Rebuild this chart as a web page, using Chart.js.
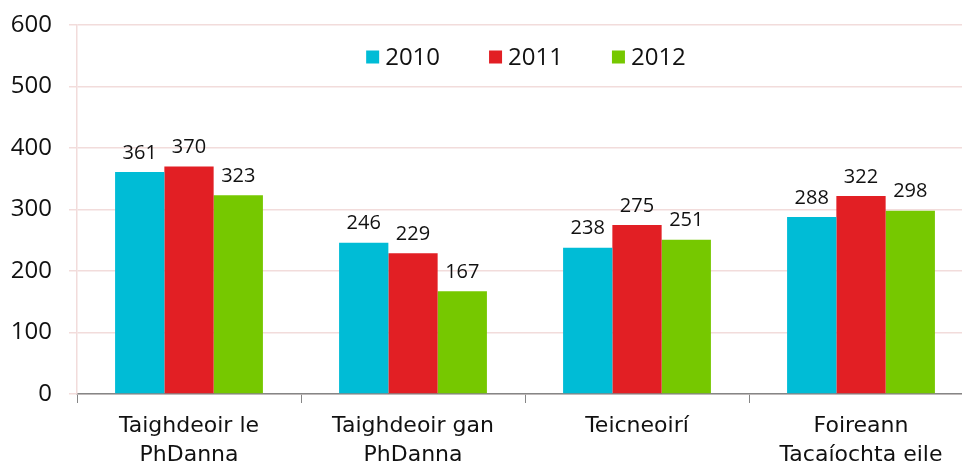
<!DOCTYPE html>
<html>
<head>
<meta charset="utf-8">
<script src="https://cdn.jsdelivr.net/npm/chart.js@4/dist/chart.umd.min.js"></script>
<style>
  html, body { margin: 0; padding: 0; background: #fff; overflow: hidden; }
  #wrap { width: 975px; height: 468px; }
</style>
</head>
<body>
<div id="wrap"><canvas id="barChart"></canvas></div>
<script>
// categories and series
const categories = [
    ['Taighdeoir le', 'PhDanna'],
    ['Taighdeoir gan', 'PhDanna'],
    ['Teicneoirí'],
    ['Foireann', 'Tacaíochta eile']
];
const years = ['2010', '2011', '2012'];
const values2010 = [361, 246, 238, 288];
const values2011 = [370, 229, 275, 322];
const values2012 = [323, 167, 251, 298];
const yTicks = [0, 100, 200, 300, 400, 500, 600];

const colours = ['#00BCD6', '#E21F24', '#76C800'];
const numFont = "'Open Sans', sans-serif";

// value labels above each bar
const barLabels = {
    id: 'barLabels',
    afterDatasetsDraw(chart) {
        const ctx = chart.ctx;
        ctx.save();
        ctx.font = '20px ' + numFont;
        ctx.fillStyle = '#111';
        ctx.textAlign = 'center';
        ctx.textBaseline = 'bottom';
        chart.data.datasets.forEach((ds, i) => {
            chart.getDatasetMeta(i).data.forEach((bar, j) => {
                ctx.fillText(ds.data[j], bar.x, bar.y - 9);
            });
        });
        ctx.restore();
    }
};

// legend drawn inside the plot area, near the top
const innerLegend = {
    id: 'innerLegend',
    afterDraw(chart) {
        const ctx = chart.ctx;
        const area = chart.chartArea;
        ctx.save();
        ctx.font = '24px ' + numFont;
        ctx.textBaseline = 'middle';
        const box = 13, gap = 6, spacing = 49;
        let total = 0;
        const widths = chart.data.datasets.map(ds => ctx.measureText(ds.label).width);
        widths.forEach(w => total += box + gap + w);
        total += spacing * (widths.length - 1);
        let x = 526 - total / 2;
        const y = area.top + 32;
        chart.data.datasets.forEach((ds, i) => {
            ctx.fillStyle = ds.backgroundColor;
            ctx.fillRect(x, y - box / 2, box, box);
            ctx.fillStyle = '#111';
            ctx.fillText(ds.label, x + box + gap, y + 1);
            x += box + gap + widths[i] + spacing;
        });
        ctx.restore();
    }
};

const ctx = document.getElementById('barChart').getContext('2d');
new Chart(ctx, {
    type: 'bar',
    data: {
        labels: categories,
        datasets: [
            { label: years[0], data: values2010, backgroundColor: colours[0] },
            { label: years[1], data: values2011, backgroundColor: colours[1] },
            { label: years[2], data: values2012, backgroundColor: colours[2] }
        ]
    },
    options: {
        responsive: true,
        maintainAspectRatio: false,
        animation: false,
        layout: { padding: { left: 11, top: 25, right: 2, bottom: 0 } },
        datasets: {
            bar: { barPercentage: 1, categoryPercentage: 0.66 }
        },
        scales: {
            x: {
                afterFit: axis => { axis.height = 74; axis.paddingLeft = 0; axis.paddingRight = 0; },
                grid: {
                    offset: true,
                    drawOnChartArea: false,
                    tickLength: 9,
                    color: '#868686'
                },
                border: { color: '#868686', width: 1.5 },
                ticks: {
                    padding: 9,
                    color: '#111',
                    font: { family: "'DejaVu Sans', sans-serif", size: 22, lineHeight: 1.3 }
                }
            },
            y: {
                min: 0,
                max: 600,
                afterBuildTicks: axis => { axis.ticks = yTicks.map(v => ({ value: v })); },
                afterFit: axis => { axis.width = 66; axis.paddingTop = 0; axis.paddingBottom = 0; },
                grid: { color: '#F2DCDB', tickLength: 8, lineWidth: 1.5 },
                border: { color: '#F2DCDB', width: 1.5 },
                ticks: {
                    padding: 17,
                    color: '#111',
                    font: { family: numFont, size: 24 }
                }
            }
        },
        plugins: {
            legend: { display: false },
            tooltip: { enabled: false }
        }
    },
    plugins: [barLabels, innerLegend]
});
</script>
</body>
</html>
